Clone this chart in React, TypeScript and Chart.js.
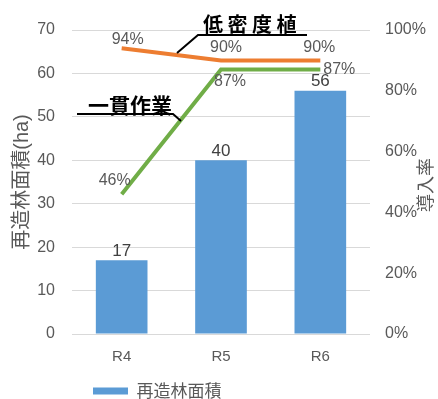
import React, { useEffect, useRef } from "react";
import { Chart, registerables } from "chart.js";

Chart.register(...registerables);

const categories = ["R4", "R5", "R6"];
const areaValues = [17, 40, 56];
const lowDensityRate = [94, 90, 90];
const integratedRate = [46, 87, 87];
const leftTicksMax = 70;
const rightTicksMax = 100;

const FONT = "'Liberation Sans', 'Noto Sans CJK JP', sans-serif";
const CJK = "'Noto Sans CJK JP', 'Liberation Sans', sans-serif";
const GRAY = "#595959";

// label offsets (style) for the line value labels
const lowOffsets = [
  [6, -9],
  [5, -13],
  [-1, -13],
];
const intOffsets = [
  [-7, -14],
  [9, 12],
  [19, 0],
];

const labelPlugin = {
  id: "valueLabels",
  afterDatasetsDraw(chart: any) {
    const ctx = chart.ctx;
    ctx.save();
    ctx.textAlign = "center";
    ctx.textBaseline = "middle";
    const bar = chart.getDatasetMeta(0);
    ctx.font = `17px ${FONT}`;
    ctx.fillStyle = "#404040";
    bar.data.forEach((el: any, i: number) => {
      ctx.fillText(String(areaValues[i]), el.x, el.y - 9);
    });
    ctx.font = `16px ${FONT}`;
    ctx.fillStyle = GRAY;
    const low = chart.getDatasetMeta(1);
    low.data.forEach((el: any, i: number) => {
      ctx.fillText(lowDensityRate[i] + "%", el.x + lowOffsets[i][0], el.y + lowOffsets[i][1]);
    });
    const integ = chart.getDatasetMeta(2);
    integ.data.forEach((el: any, i: number) => {
      ctx.fillText(integratedRate[i] + "%", el.x + intOffsets[i][0], el.y + intOffsets[i][1]);
    });
    ctx.restore();
  },
};

const annotationPlugin = {
  id: "calloutNotes",
  afterDraw(chart: any) {
    const ctx = chart.ctx;
    const a = chart.chartArea;
    const L = a.left;
    const T = a.top;
    ctx.save();
    // right axis title (rotated counter-clockwise)
    ctx.save();
    ctx.translate(chart.width - 13, (a.top + a.bottom) / 2 + 3);
    ctx.rotate(-Math.PI / 2);
    ctx.fillStyle = GRAY;
    ctx.font = `18px ${CJK}`;
    ctx.textAlign = "center";
    ctx.textBaseline = "middle";
    ctx.fillText("導入率", 0, 0);
    ctx.restore();
    // 低密度植
    ctx.fillStyle = "#ffffff";
    ctx.fillRect(L + 121, T - 18, 114, 17);
    ctx.fillStyle = "#000000";
    ctx.font = `bold 20px ${CJK}`;
    ctx.textAlign = "left";
    ctx.textBaseline = "middle";
    ctx.fillText("低 密 度 植", L + 131, T - 6);
    ctx.strokeStyle = "#000000";
    ctx.lineWidth = 2;
    ctx.beginPath();
    ctx.moveTo(L + 105, T + 23);
    ctx.lineTo(L + 126, T + 5);
    ctx.lineTo(L + 235, T + 5);
    ctx.stroke();
    // 一貫作業
    ctx.font = `bold 21px ${CJK}`;
    ctx.fillText("一貫作業", L + 16, T + 75);
    ctx.beginPath();
    ctx.moveTo(L + 5, T + 84);
    ctx.lineTo(L + 101, T + 84);
    ctx.lineTo(L + 109, T + 91);
    ctx.stroke();
    ctx.restore();
  },
};

const legendShift = {
  id: "legendShift",
  afterLayout(chart: any) {
    const lg = chart.legend;
    if (!lg) return;
    const w = lg.right - lg.left;
    lg.left = 87;
    lg.right = 87 + w;
    lg.top += 10.5;
    lg.bottom += 10.5;
  },
};

export default function App() {
  const ref = useRef<HTMLCanvasElement | null>(null);
  useEffect(() => {
    document.body.style.margin = "0";
    if (!ref.current) return;
    const chart = new Chart(ref.current, {
      data: {
        labels: categories,
        datasets: [
          {
            type: "bar",
            label: "再造林面積",
            data: areaValues,
            backgroundColor: "#5B9BD5",
            borderWidth: 0,
            yAxisID: "y",
            order: 2,
            barPercentage: 0.52,
            categoryPercentage: 1,
          },
          {
            type: "line",
            label: "低密度植",
            data: lowDensityRate,
            borderColor: "#ED7D31",
            backgroundColor: "#ED7D31",
            borderWidth: 4,
            pointRadius: 0,
            tension: 0,
            yAxisID: "y1",
            order: 1,
          },
          {
            type: "line",
            label: "一貫作業",
            data: integratedRate,
            borderColor: "#70AD47",
            backgroundColor: "#70AD47",
            borderWidth: 4,
            pointRadius: 0,
            tension: 0,
            yAxisID: "y1",
            order: 1,
          },
        ],
      } as any,
      options: {
        responsive: false,
        animation: false,
        layout: { padding: { top: 30, left: 0, right: 0, bottom: 0 } },
        font: { family: FONT },
        plugins: {
          tooltip: { enabled: false },
          legend: {
            position: "bottom",
            align: "start",
            labels: {
              filter: (item: any) => item.datasetIndex === 0,
              boxWidth: 35,
              boxHeight: 7,
              padding: 6,
              color: GRAY,
              font: { size: 17, family: CJK },
            },
          },
        },
        scales: {
          x: {
            grid: { display: false, drawTicks: false },
            border: { display: false },
            ticks: { color: GRAY, padding: 14, font: { size: 15, family: FONT } },
            afterFit: (s: any) => {
              s.height = 32;
            },
          },
          y: {
            position: "left",
            min: 0,
            max: leftTicksMax,
            ticks: { stepSize: 10, color: GRAY, padding: 17, font: { size: 16, family: FONT } },
            grid: { color: "#D9D9D9", lineWidth: 1, drawTicks: false },
            border: { display: false },
            title: {
              display: true,
              text: "再造林面積(ha)",
              color: GRAY,
              font: { size: 20, family: FONT },
              padding: { top: 10, bottom: 0 },
            },
            afterFit: (s: any) => {
              s.width = 72;
            },
          },
          y1: {
            position: "right",
            min: 0,
            max: rightTicksMax,
            ticks: {
              stepSize: 20,
              color: GRAY,
              padding: 15,
              font: { size: 16, family: FONT },
              callback: (v: any) => v + "%",
            },
            grid: { display: false, drawTicks: false },
            border: { display: false },
            title: { display: false },
            afterFit: (s: any) => {
              s.width = 68;
            },
          },
        },
      } as any,
      plugins: [labelPlugin, annotationPlugin, legendShift],
    });
    return () => chart.destroy();
  }, []);
  return (
    <div style={{ width: 438, height: 399 }}>
      <canvas ref={ref} width={438} height={399} />
    </div>
  );
}
